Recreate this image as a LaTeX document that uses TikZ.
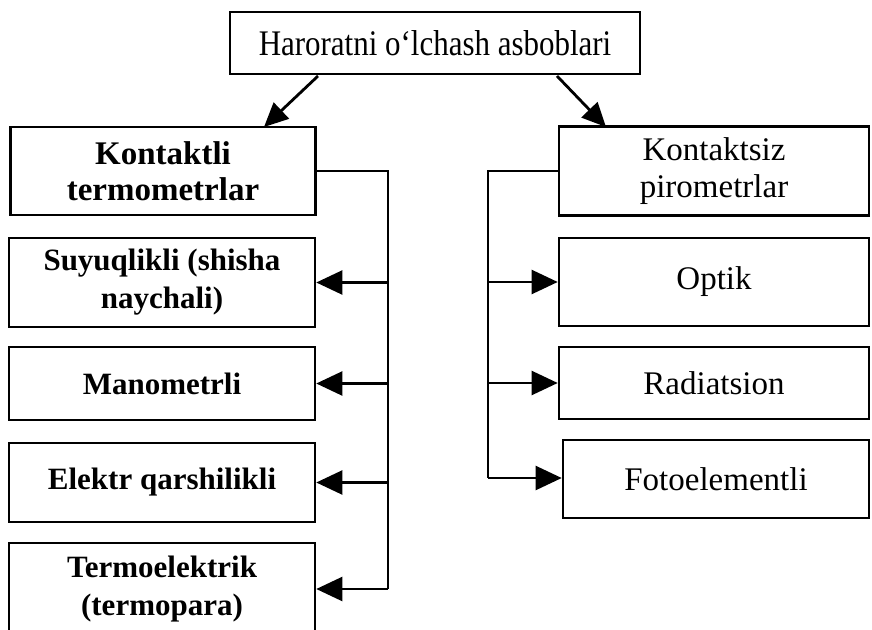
\documentclass[tikz,border=0pt]{standalone}
\usepackage{fontspec}
\setmainfont{Liberation Serif}
\usetikzlibrary{arrows.meta}
\begin{document}
\begin{tikzpicture}[x=1pt,y=-1pt,
  box/.style={draw,line width=2.6pt,align=center,font=\fontsize{33}{37}\selectfont,inner sep=0pt},
  bbox/.style={box,font=\fontsize{31}{38}\selectfont\bfseries},
  conn/.style={line width=2.2pt},
  arr/.style={conn,-{Triangle[length=26pt,width=24pt]}},
  darr/.style={line width=2.8pt,-{Triangle[length=24pt,width=22pt]}}]
\useasboundingbox (0,0) rectangle (872,629);
\node[box,minimum width=410pt,minimum height=62pt,font=\fontsize{36}{40}\selectfont] (top) at (435,43) {\scalebox{0.86}[1]{Haroratni o\textquoteleft lchash asboblari}};
\node[bbox,minimum width=305pt,minimum height=88pt,font=\fontsize{33}{36}\selectfont\bfseries] (kt) at (163,171) {Kontaktli\\termometrlar};
\node[bbox,minimum width=306pt,minimum height=89pt] (su) at (162,282.5) {Suyuqlikli (shisha\\naychali)};
\node[bbox,minimum width=306pt,minimum height=73pt] (ma) at (162,383.5) {Manometrli};
\node[bbox,minimum width=306pt,minimum height=79pt] (el) at (162,482.5) {Elektr qarshilikli};
\node[bbox,minimum width=306pt,minimum height=92pt] (te) at (162,589) {Termoelektrik\\(termopara)};
\node[box,minimum width=310pt,minimum height=89pt] (ks) at (714,171) {Kontaktsiz\\pirometrlar};
\node[box,minimum width=310pt,minimum height=88pt] (op) at (714,282) {Optik};
\node[box,minimum width=310pt,minimum height=72pt] (ra) at (714,383) {Radiatsion};
\node[box,minimum width=306pt,minimum height=78pt] (fo) at (716,479) {Fotoelementli};
\coordinate (lb1) at (388,171);
\coordinate (lb2) at (388,589);
\coordinate (rb1) at (488,171);
\coordinate (rb2) at (488,478);
\draw[conn] (kt.east |- lb1) -- (lb1) -- (lb2);
\draw[conn] (ks.west |- rb1) -- (rb1) -- (rb2);
\draw[arr] (lb1 |- su) -- (su.east);
\draw[arr] (lb1 |- ma) -- (ma.east);
\draw[arr] (lb1 |- el) -- (el.east);
\draw[arr] (lb2) -- (te.east);
\draw[arr] (rb1 |- op) -- (op.west);
\draw[arr] (rb1 |- ra) -- (ra.west);
\draw[arr] (rb2) -- (fo.west |- rb2);
\draw[darr] (318,76) -- (264,127);
\draw[darr] (557,76) -- (606,127);
\end{tikzpicture}
\end{document}
